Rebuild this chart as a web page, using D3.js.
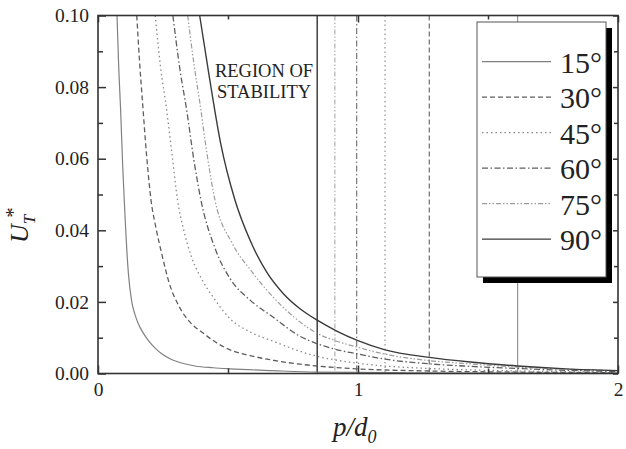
<!DOCTYPE html>
<html>
<head>
<meta charset="utf-8">
<script src="https://cdn.jsdelivr.net/npm/d3@7"></script>
<style>
  html, body { margin: 0; padding: 0; background: #fff; }
  svg { display: block; }
  svg text { font-family: "Liberation Serif", "Times New Roman", serif !important; fill: #222; }
</style>
</head>
<body>
<svg id="chart" width="626" height="449"></svg>
<script>
// Series labels (tilt angle)
const angles = ["15°", "30°", "45°", "60°", "75°", "90°"];

// U_T* versus p/d0, one curve per angle: [p/d0, U_T*]
const curve15 = [[0.073,0.100],[0.080,0.085],[0.087,0.0736],[0.095,0.058],[0.101,0.0484],[0.106,0.041],[0.112,0.033],[0.117,0.0279],[0.129,0.0204],[0.142,0.0165],[0.155,0.0139],[0.175,0.0112],[0.194,0.0092],[0.220,0.0071],[0.245,0.0055],[0.275,0.0042],[0.309,0.0032],[0.373,0.0021],[0.443,0.0016],[0.508,0.0013],[0.674,0.0008],[0.843,0.0004],[1.200,0.0002],[1.600,0.00012],[2.000,0.0001]];
const curve30 = [[0.149,0.100],[0.160,0.087],[0.172,0.0750],[0.188,0.060],[0.204,0.0484],[0.222,0.0410],[0.245,0.0335],[0.275,0.0250],[0.310,0.0190],[0.335,0.0160],[0.365,0.0135],[0.399,0.0116],[0.443,0.0092],[0.508,0.0066],[0.585,0.0050],[0.674,0.0037],[0.777,0.0026],[0.843,0.0021],[0.995,0.0013],[1.274,0.0007],[1.614,0.0004],[2.000,0.0002]];
const curve45 = [[0.220,0.100],[0.240,0.086],[0.264,0.0736],[0.285,0.061],[0.306,0.0484],[0.330,0.0400],[0.360,0.0325],[0.400,0.0262],[0.443,0.0213],[0.508,0.0153],[0.585,0.0116],[0.674,0.0090],[0.777,0.0062],[0.843,0.0048],[0.911,0.0038],[0.995,0.0029],[1.104,0.0021],[1.274,0.0014],[1.431,0.0010],[1.614,0.0007],[2.000,0.0004]];
const curve60 = [[0.288,0.100],[0.315,0.085],[0.341,0.0736],[0.368,0.060],[0.396,0.0484],[0.450,0.0350],[0.508,0.0265],[0.585,0.0205],[0.674,0.0157],[0.777,0.0104],[0.843,0.0083],[0.911,0.0068],[0.995,0.0055],[1.104,0.0040],[1.274,0.0027],[1.431,0.0020],[1.614,0.0014],[1.800,0.0009],[2.000,0.0006]];
const curve75 = [[0.345,0.100],[0.368,0.087],[0.392,0.0755],[0.420,0.061],[0.450,0.0484],[0.515,0.0365],[0.588,0.0288],[0.674,0.0213],[0.750,0.0160],[0.815,0.0124],[0.843,0.0112],[0.911,0.0092],[0.995,0.0074],[1.104,0.0054],[1.274,0.0036],[1.431,0.0027],[1.614,0.0018],[1.800,0.0012],[2.000,0.0008]];
const curve90 = [[0.391,0.100],[0.428,0.0829],[0.472,0.0642],[0.527,0.0484],[0.585,0.0372],[0.649,0.0283],[0.713,0.0223],[0.777,0.0181],[0.843,0.0149],[0.920,0.0118],[1.000,0.0092],[1.104,0.0066],[1.274,0.0045],[1.431,0.0032],[1.614,0.0021],[1.800,0.0013],[2.000,0.0008]];

// Minimum stable pitch for each angle (vertical markers)
const stabilityLimits = [1.614, 1.274, 1.104, 0.995, 0.911, 0.843];

// Axis ticks
const xTicks = [0, 1, 2];
const xMinorTicks = [0.5, 1.5];
const yTicks = [0, 0.02, 0.04, 0.06, 0.08, 0.10];
const yMinorTicks = [0.01, 0.03, 0.05, 0.07, 0.09];

const regionLabel = ["REGION OF", "STABILITY"];

const curves = [curve15, curve30, curve45, curve60, curve75, curve90];

// Line appearance per angle
const strokeColors = ["#808080", "#5e5e5e", "#8a8a8a", "#5e5e5e", "#9c9c9c", "#3a3a3a"];
const strokeDashes = [null, "5,3", "1.5,3", "6,2.5,1.5,2.5", "5,2,1.5,2,1.5,2", null];
const strokeWidths = [1.2, 1.3, 1.3, 1.3, 1.2, 1.4];
const markerColors = ["#8a8a8a", "#5e5e5e", "#8a8a8a", "#6a6a6a", "#a8a8a8", "#222"];

const plot = { left: 98, right: 618, top: 15.5, bottom: 373.5 };
const serif = "'Liberation Serif', 'Times New Roman', serif";

const svg = d3.select("#chart");

const x = d3.scaleLinear().domain([0, 2]).range([plot.left, plot.right]);
const y = d3.scaleLinear().domain([0, 0.1]).range([plot.bottom, plot.top]);

svg.append("defs").append("clipPath").attr("id", "plotClip")
  .append("rect")
  .attr("x", plot.left).attr("y", plot.top)
  .attr("width", plot.right - plot.left).attr("height", plot.bottom - plot.top);

const body = svg.append("g").attr("clip-path", "url(#plotClip)");

// vertical stability markers
body.selectAll("line.limit")
  .data(stabilityLimits)
  .join("line")
  .attr("class", "limit")
  .attr("x1", d => x(d)).attr("x2", d => x(d))
  .attr("y1", y(0.1)).attr("y2", y(0))
  .attr("stroke", (d, i) => markerColors[i])
  .attr("stroke-width", (d, i) => i === 5 ? 1.3 : 1.1)
  .attr("stroke-dasharray", (d, i) => strokeDashes[i]);

// curves
const line = d3.line()
  .x(d => x(d[0]))
  .y(d => y(d[1]))
  .curve(d3.curveMonotoneX);

body.selectAll("path.curve")
  .data(curves)
  .join("path")
  .attr("class", "curve")
  .attr("d", line)
  .attr("fill", "none")
  .attr("stroke", (d, i) => strokeColors[i])
  .attr("stroke-width", (d, i) => strokeWidths[i])
  .attr("stroke-dasharray", (d, i) => strokeDashes[i]);

// region label
svg.append("text")
  .attr("x", 264).attr("y", 77)
  .attr("text-anchor", "middle")
  .style("font-family", serif)
  .style("font-size", "18.5px")
  .selectAll("tspan")
  .data(regionLabel)
  .join("tspan")
  .attr("x", 264)
  .attr("dy", (d, i) => i === 0 ? 0 : 21)
  .text(d => d);

// axes: major and minor ticks pointing inward
const fmtY = d3.format(".2f");
svg.append("g").attr("transform", `translate(${plot.left},0)`)
  .call(d3.axisLeft(y).tickValues(yTicks).tickFormat(fmtY).tickSize(-8).tickPadding(9));
svg.append("g").attr("transform", `translate(${plot.left},0)`)
  .call(d3.axisLeft(y).tickValues(yMinorTicks).tickFormat("").tickSize(-5));

svg.append("g").attr("transform", `translate(0,${plot.bottom})`)
  .call(d3.axisBottom(x).tickValues(xTicks).tickFormat(d3.format("d")).tickSize(-8).tickPadding(9));
svg.append("g").attr("transform", `translate(0,${plot.bottom})`)
  .call(d3.axisBottom(x).tickValues(xMinorTicks).tickFormat("").tickSize(-5));

svg.append("g").attr("transform", `translate(0,${plot.top})`)
  .call(d3.axisTop(x).tickValues(xTicks).tickFormat("").tickSize(-7));
svg.append("g").attr("transform", `translate(0,${plot.top})`)
  .call(d3.axisTop(x).tickValues(xMinorTicks).tickFormat("").tickSize(-4));
svg.append("g").attr("transform", `translate(${plot.right},0)`)
  .call(d3.axisRight(y).tickValues(yTicks).tickFormat("").tickSize(-5));
svg.append("g").attr("transform", `translate(${plot.right},0)`)
  .call(d3.axisRight(y).tickValues(yMinorTicks).tickFormat("").tickSize(-4));

svg.selectAll(".domain").remove();
svg.selectAll("g[font-family]").attr("font-family", null);
svg.selectAll(".tick line").attr("stroke", "#333").attr("stroke-width", 1.5);
svg.selectAll(".tick text")
  .style("font-family", serif)
  .style("font-size", "19.5px")
  .attr("fill", "#222");

// frame
svg.append("rect")
  .attr("x", plot.left).attr("y", plot.top)
  .attr("width", plot.right - plot.left).attr("height", plot.bottom - plot.top)
  .attr("fill", "none").attr("stroke", "#333").attr("stroke-width", 1.6);

// legend with drop shadow
const legend = { x: 477, y: 22, w: 129, h: 255, shadow: 6 };
svg.append("rect")
  .attr("x", legend.x + legend.shadow).attr("y", legend.y + legend.shadow)
  .attr("width", legend.w).attr("height", legend.h)
  .attr("fill", "#000");
svg.append("rect")
  .attr("x", legend.x).attr("y", legend.y)
  .attr("width", legend.w).attr("height", legend.h)
  .attr("fill", "#fff").attr("stroke", "#555").attr("stroke-width", 1);

const rows = svg.append("g").selectAll("g")
  .data(angles)
  .join("g")
  .attr("transform", (d, i) => `translate(0,${61.7 + i * 35.5})`);
rows.append("line")
  .attr("x1", 482).attr("x2", 551)
  .attr("y1", 0).attr("y2", 0)
  .attr("stroke", (d, i) => strokeColors[i])
  .attr("stroke-width", 1.2)
  .attr("stroke-dasharray", (d, i) => strokeDashes[i]);
rows.append("text")
  .attr("x", 602).attr("y", 11)
  .attr("text-anchor", "end")
  .style("font-family", serif)
  .style("font-size", "30px")
  .text(d => d);

// axis titles
const yTitle = svg.append("text")
  .attr("transform", "translate(28,243) rotate(-90)")
  .style("font-family", serif)
  .style("font-size", "26px")
  .style("font-style", "italic");
yTitle.append("tspan").text("U");
yTitle.append("tspan").attr("dy", 7).style("font-size", "17px").text("T");
yTitle.append("tspan").attr("dx", -3).attr("dy", -15).style("font-size", "21px").style("font-style", "normal").text("*");

const xTitle = svg.append("text")
  .attr("x", 333).attr("y", 436)
  .style("font-family", serif)
  .style("font-size", "27px")
  .style("font-style", "italic");
xTitle.append("tspan").text("p/d");
xTitle.append("tspan").attr("dy", 7).style("font-size", "18px").text("0");
</script>
</body>
</html>
